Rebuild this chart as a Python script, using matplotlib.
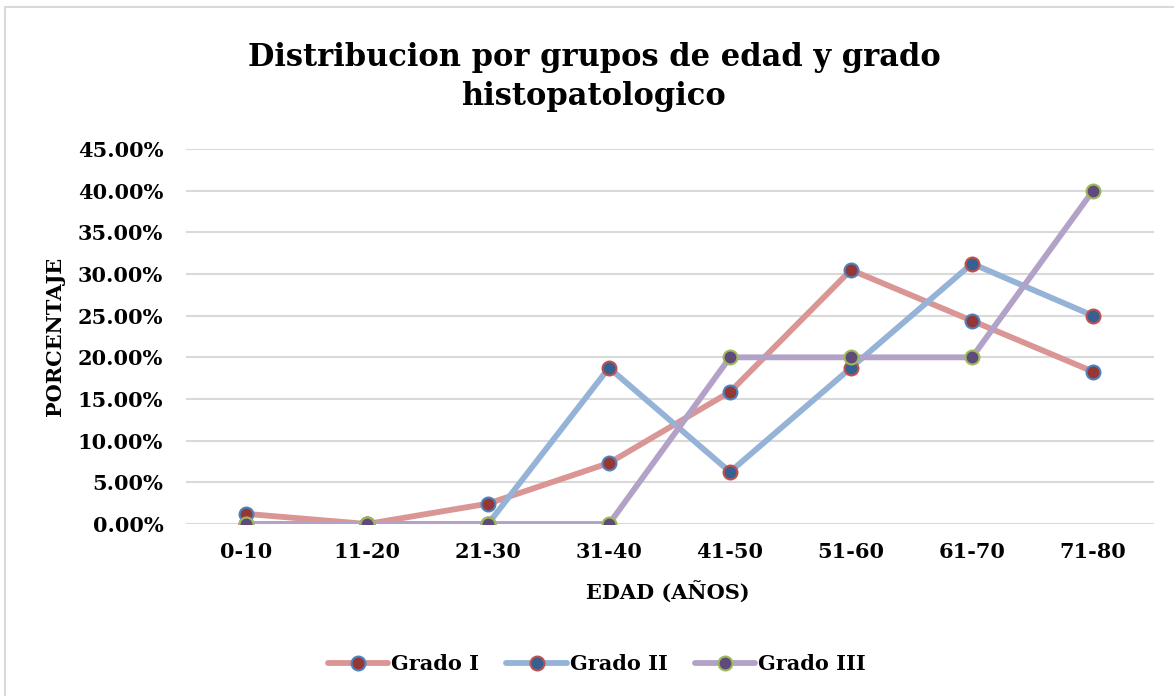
import matplotlib
matplotlib.use("Agg")
import matplotlib.pyplot as plt
from matplotlib.patches import Rectangle
from matplotlib.ticker import FuncFormatter

categories = ["0-10", "11-20", "21-30", "31-40", "41-50", "51-60", "61-70", "71-80"]
grado_i = [1.22, 0.0, 2.44, 7.32, 15.85, 30.49, 24.39, 18.29]
grado_ii = [0.0, 0.0, 0.0, 18.75, 6.25, 18.75, 31.25, 25.0]
grado_iii = [0.0, 0.0, 0.0, 0.0, 20.0, 20.0, 20.0, 40.0]
series_names = ["Grado I", "Grado II", "Grado III"]

plt.rcParams['font.family'] = ['DejaVu Serif']
plt.rcParams['font.weight'] = 'bold'

fig = plt.figure(figsize=(11.74, 6.96), dpi=100)
ax = fig.add_axes([185.5/1174, 1-524/696, (1153.5-185.5)/1174, (524-149)/696])

# chart border
fig.patches.append(Rectangle((5/1174, -0.02), 1.1, 1 - 7/696 + 0.02, transform=fig.transFigure,
                             fill=False, edgecolor='#D9D9D9', linewidth=1.5))

styles = [
    dict(color='#D99694', mfc='#953735', mec='#4F81BD'),
    dict(color='#95B3D7', mfc='#366092', mec='#C0504D'),
    dict(color='#B3A2C7', mfc='#604A7B', mec='#9BBB59'),
]
x = list(range(len(categories)))
for vals, name, st in zip([grado_i, grado_ii, grado_iii], series_names, styles):
    ax.plot(x, [v/100 for v in vals], color=st['color'], lw=4.2, marker='o', ms=10,
            mfc=st['mfc'], mec=st['mec'], mew=1.5, label=name, solid_capstyle='round', zorder=3)

ax.set_xlim(-0.5, 7.5)
ax.set_ylim(0, 0.45)
ax.set_yticks([i*0.05 for i in range(10)])
ax.yaxis.set_major_formatter(FuncFormatter(lambda v, p: f"{v*100:.2f}%"))
ax.set_xticks(x)
ax.set_xticklabels(categories)
ax.grid(axis='y', color='#D9D9D9', lw=1.5, zorder=0)
for s in ax.spines.values():
    s.set_visible(False)
ax.tick_params(length=0, labelsize=15)
ax.tick_params(axis='y', pad=16)
ax.tick_params(axis='x', pad=13)
for lab in ax.get_xticklabels() + ax.get_yticklabels():
    lab.set_fontweight('bold')

fig.text(55/1174, 1-336/696, "PORCENTAJE", rotation=90, ha='center', va='center', fontsize=15, fontweight='bold')
fig.text(668/1174, 1-593/696, "EDAD (AÑOS)", ha='center', va='center', fontsize=15, fontweight='bold')
fig.text(594/1174, 1-77/696, "Distribucion por grupos de edad y grado\nhistopatologico", ha='center', va='center',
         fontsize=22, fontweight='bold', linespacing=1.35)

fig.legend(loc='center', bbox_to_anchor=(597/1174, 1-664/696), ncol=3, frameon=False,
           prop=dict(size=15, weight='bold'), handlelength=2.9, handletextpad=0.15, columnspacing=1.3)

fig.savefig("out.png", dpi=100)
